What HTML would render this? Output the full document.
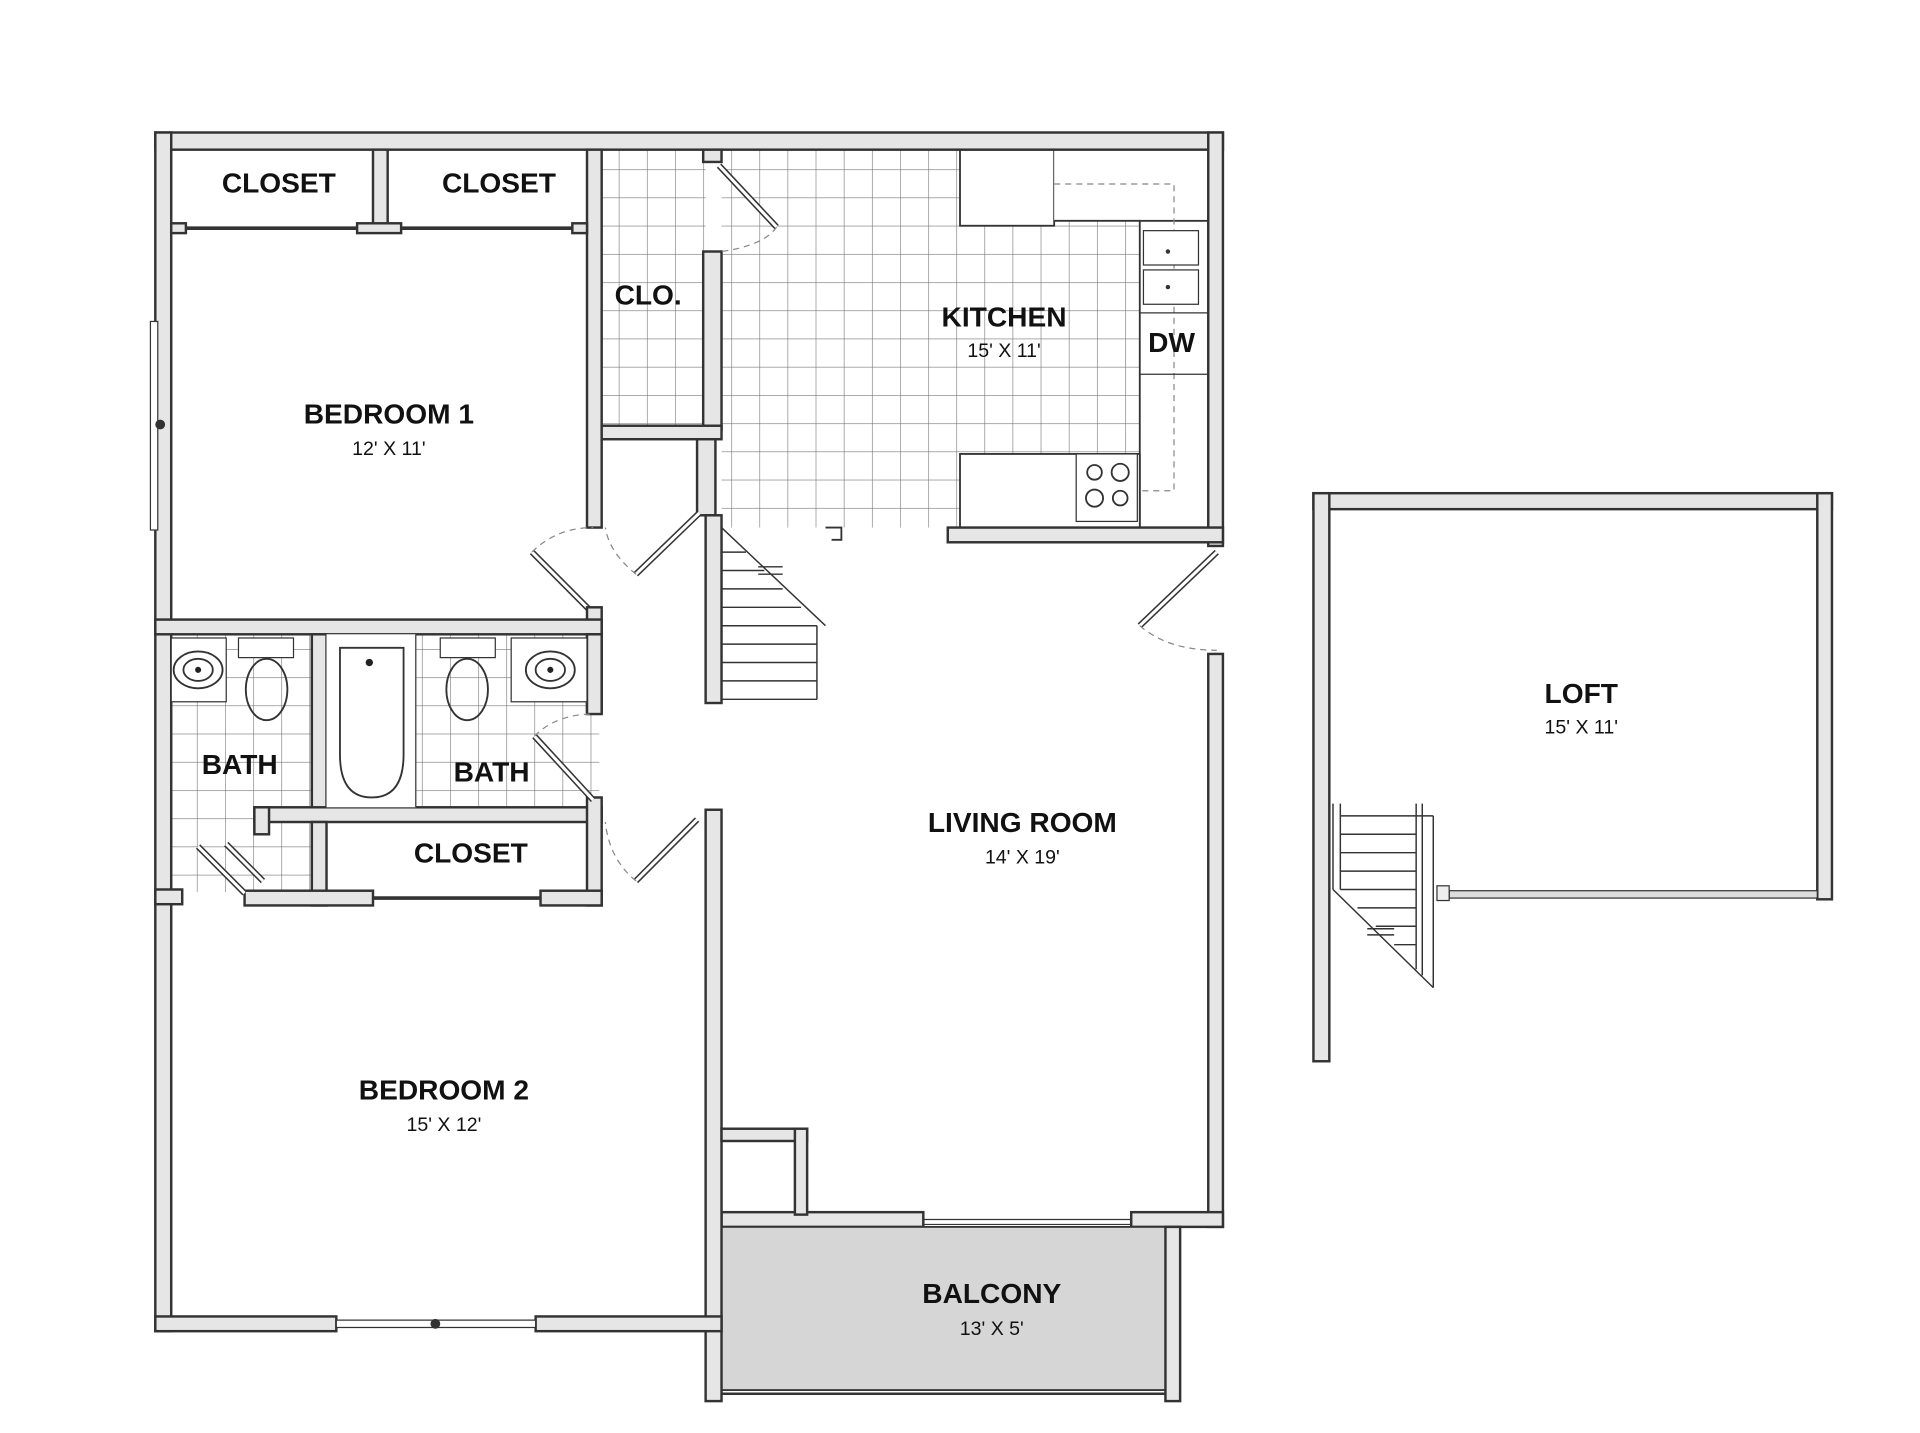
<!DOCTYPE html>
<html><head><style>
html,body{margin:0;padding:0;background:#fff;}
svg{display:block;}
text{font-family:"Liberation Sans",sans-serif;fill:#111;}
.t{font-weight:bold;font-size:23px;text-anchor:middle;}
.s{font-size:16px;text-anchor:middle;}
.w{fill:#e6e6e6;stroke:#333;stroke-width:2;}
.thin{fill:none;stroke:#333;stroke-width:1.5;}
.dash{fill:none;stroke:#888;stroke-width:1;stroke-dasharray:5 4;}
</style></head><body>
<svg width="1920" height="1433" viewBox="0 0 1570 1168" preserveAspectRatio="none" xmlns="http://www.w3.org/2000/svg">
<defs>
<pattern id="tile" x="0" y="0" width="23" height="23" patternUnits="userSpaceOnUse">
<path d="M0 0H23M0 0V23" stroke="#777" stroke-width="1" fill="none"/>
</pattern>
</defs>
<rect x="492" y="122" width="85" height="225" fill="url(#tile)"/>
<rect x="590" y="122" width="398" height="308" fill="url(#tile)"/>
<rect x="140" y="517" width="115" height="210" fill="url(#tile)"/>
<rect x="340" y="517" width="150" height="140" fill="url(#tile)"/>
<rect x="785" y="122" width="77" height="62" fill="#fff" stroke="#333" stroke-width="1.5"/>
<rect x="862" y="122" width="126" height="58" fill="#fff" stroke="none"/>
<line x1="862" y1="180" x2="932" y2="180" stroke="#333" stroke-width="1.5"/>
<rect x="932" y="180" width="56" height="250" fill="#fff" stroke="#333" stroke-width="1.5"/>
<rect x="785" y="370" width="147" height="60" fill="#fff" stroke="#333" stroke-width="1.5"/>
<path class="dash" d="M862 150H960V400H932"/>
<rect x="935" y="188" width="45" height="28" fill="#fff" stroke="#333"/>
<rect x="935" y="220" width="45" height="28" fill="#fff" stroke="#333"/>
<circle cx="955" cy="205" r="1.8" fill="#333"/><circle cx="955" cy="234" r="1.8" fill="#333"/>
<line x1="932" y1="255" x2="988" y2="255" stroke="#333"/><line x1="932" y1="305" x2="988" y2="305" stroke="#333"/>
<rect x="880" y="370" width="50" height="55" fill="#fff" stroke="#333"/>
<circle cx="895" cy="385" r="6" class="thin"/><circle cx="916" cy="385" r="7" class="thin"/>
<circle cx="895" cy="406" r="7" class="thin"/><circle cx="916" cy="406" r="6" class="thin"/>
<rect class="w" x="127" y="108" width="873" height="14"/>
<rect class="w" x="127" y="108" width="13" height="977"/>
<rect class="w" x="988" y="108" width="12" height="337"/>
<rect class="w" x="988" y="533" width="12" height="467"/>
<rect class="w" x="925" y="988" width="75" height="12"/>
<rect class="w" x="590" y="988" width="165" height="12"/>
<line x1="755" y1="994" x2="925" y2="994" stroke="#333"/><line x1="755" y1="998" x2="925" y2="998" stroke="#333"/>
<rect x="590" y="1000" width="363" height="133" fill="#d6d6d6" stroke="#333" stroke-width="1.5"/>
<rect class="w" x="577" y="660" width="13" height="482"/>
<rect class="w" x="953" y="1000" width="12" height="142"/>
<line x1="590" y1="1136" x2="953" y2="1136" stroke="#333" stroke-width="2"/>
<rect class="w" x="127" y="1073" width="148" height="12"/>
<rect class="w" x="438" y="1073" width="152" height="12"/>
<rect x="275" y="1076" width="163" height="6" fill="#fff" stroke="#333"/>
<circle cx="356" cy="1079" r="4" fill="#333"/>
<rect class="w" x="590" y="920" width="70" height="10"/>
<rect class="w" x="650" y="920" width="10" height="70"/>
<rect x="123" y="262" width="6" height="170" fill="#fff" stroke="#333"/>
<circle cx="131" cy="346" r="4" fill="#333"/>
<rect class="w" x="305" y="122" width="12" height="66"/>
<rect class="w" x="480" y="122" width="12" height="308"/>
<rect class="w" x="140" y="182" width="12" height="8"/>
<rect class="w" x="292" y="182" width="36" height="8"/>
<rect class="w" x="468" y="182" width="12" height="8"/>
<line x1="152" y1="186" x2="292" y2="186" stroke="#333" stroke-width="3"/>
<line x1="328" y1="186" x2="468" y2="186" stroke="#333" stroke-width="3"/>
<rect class="w" x="575" y="205" width="15" height="145"/>
<rect class="w" x="575" y="122" width="15" height="10"/>
<rect class="w" x="492" y="347" width="98" height="11"/>
<rect class="w" x="570" y="358" width="15" height="62"/>
<line x1="588" y1="135" x2="635" y2="185" stroke="#333" stroke-width="5"/>
<line x1="588" y1="135" x2="635" y2="185" stroke="#fff" stroke-width="2.5"/>
<path class="dash" d="M635 185Q625 200 590 205"/>
<line x1="572" y1="418" x2="520" y2="468" stroke="#333" stroke-width="5"/>
<line x1="572" y1="418" x2="520" y2="468" stroke="#fff" stroke-width="2.5"/>
<path class="dash" d="M520 468Q498 450 495 430"/>
<line x1="435" y1="450" x2="485" y2="500" stroke="#333" stroke-width="5"/>
<line x1="435" y1="450" x2="485" y2="500" stroke="#fff" stroke-width="2.5"/>
<path class="dash" d="M435 450Q455 430 485 430"/>
<rect class="w" x="480" y="495" width="12" height="85"/>
<rect class="w" x="127" y="505" width="365" height="12"/>
<rect class="w" x="577" y="420" width="13" height="153"/>
<g stroke="#333" stroke-width="1.2">
<line x1="590" y1="430" x2="590" y2="570"/><line x1="668" y1="510" x2="668" y2="570"/>
<line x1="590" y1="430" x2="675" y2="510"/>
<line x1="590" y1="570" x2="668" y2="570"/>
<line x1="590" y1="555" x2="668" y2="555"/><line x1="590" y1="540" x2="668" y2="540"/>
<line x1="590" y1="525" x2="668" y2="525"/><line x1="590" y1="510" x2="668" y2="510"/>
<line x1="590" y1="495" x2="655" y2="495"/><line x1="590" y1="480" x2="640" y2="480"/>
<line x1="590" y1="465" x2="625" y2="465"/><line x1="590" y1="450" x2="610" y2="450"/>
<line x1="620" y1="462" x2="640" y2="462"/><line x1="620" y1="468" x2="640" y2="468"/>
</g>
<rect class="w" x="775" y="430" width="225" height="12"/>
<path d="M675 430H688V440H680" class="thin"/>
<line x1="995" y1="450" x2="932" y2="510" stroke="#333" stroke-width="5"/>
<line x1="995" y1="450" x2="932" y2="510" stroke="#fff" stroke-width="2.5"/>
<path class="dash" d="M932 510Q955 530 995 530"/>
<rect class="w" x="255" y="517" width="12" height="143"/>
<rect class="w" x="480" y="517" width="12" height="65"/>
<rect class="w" x="208" y="658" width="284" height="12"/>
<rect class="w" x="208" y="658" width="12" height="22"/>
<rect class="w" x="255" y="670" width="12" height="68"/>
<rect class="w" x="480" y="650" width="12" height="88"/>
<rect class="w" x="200" y="726" width="105" height="12"/>
<rect class="w" x="442" y="726" width="50" height="12"/>
<line x1="305" y1="732" x2="442" y2="732" stroke="#333" stroke-width="3"/>
<rect class="w" x="127" y="725" width="22" height="12"/>
<rect x="140" y="520" width="45" height="52" fill="#fff" stroke="#333"/>
<ellipse cx="162" cy="546" rx="20" ry="15" class="thin"/><ellipse cx="162" cy="546" rx="12" ry="9" class="thin"/><circle cx="162" cy="546" r="2.5" fill="#222"/>
<rect x="195" y="520" width="45" height="16" fill="#fff" stroke="#333"/>
<ellipse cx="218" cy="562" rx="17" ry="25" class="thin"/>
<rect x="360" y="520" width="45" height="16" fill="#fff" stroke="#333"/>
<ellipse cx="382" cy="562" rx="17" ry="25" class="thin"/>
<rect x="418" y="520" width="62" height="52" fill="#fff" stroke="#333"/>
<ellipse cx="450" cy="546" rx="20" ry="15" class="thin"/><ellipse cx="450" cy="546" rx="12" ry="9" class="thin"/><circle cx="450" cy="546" r="2.5" fill="#222"/>
<rect x="267" y="517" width="73" height="141" fill="#fff"/>
<path d="M278 528H330V615Q330 650 304 650Q278 650 278 615Z" class="thin"/>
<circle cx="302" cy="540" r="3" fill="#222"/>
<line x1="340" y1="517" x2="340" y2="658" stroke="#333"/>
<line x1="437" y1="600" x2="485" y2="652" stroke="#333" stroke-width="5"/>
<line x1="437" y1="600" x2="485" y2="652" stroke="#fff" stroke-width="2.5"/>
<path class="dash" d="M437 600Q455 582 485 582"/>
<line x1="162" y1="690" x2="200" y2="728" stroke="#333" stroke-width="5"/><line x1="162" y1="690" x2="200" y2="728" stroke="#fff" stroke-width="2.5"/>
<line x1="185" y1="688" x2="215" y2="718" stroke="#333" stroke-width="5"/><line x1="185" y1="688" x2="215" y2="718" stroke="#fff" stroke-width="2.5"/>
<line x1="570" y1="668" x2="520" y2="718" stroke="#333" stroke-width="5"/>
<line x1="570" y1="668" x2="520" y2="718" stroke="#fff" stroke-width="2.5"/>
<path class="dash" d="M520 718Q498 700 495 670"/>
<rect class="w" x="1074" y="402" width="424" height="13"/>
<rect class="w" x="1074" y="402" width="13" height="463"/>
<rect class="w" x="1486" y="402" width="12" height="331"/>
<rect x="1185" y="726" width="301" height="6" fill="#ddd" stroke="#333"/>
<rect x="1175" y="722" width="10" height="12" fill="#eee" stroke="#333"/>
<g stroke="#333" stroke-width="1.2" fill="none">
<line x1="1090" y1="655" x2="1090" y2="725"/><line x1="1096" y1="655" x2="1096" y2="725"/>
<line x1="1158" y1="655" x2="1158" y2="790"/><line x1="1163" y1="655" x2="1163" y2="795"/>
<line x1="1172" y1="665" x2="1172" y2="805"/>
<line x1="1090" y1="725" x2="1172" y2="805"/>
<line x1="1096" y1="665" x2="1172" y2="665"/>
<line x1="1096" y1="680" x2="1158" y2="680"/><line x1="1096" y1="695" x2="1158" y2="695"/>
<line x1="1096" y1="710" x2="1158" y2="710"/><line x1="1096" y1="725" x2="1158" y2="725"/>
<line x1="1110" y1="740" x2="1158" y2="740"/><line x1="1125" y1="755" x2="1158" y2="755"/>
<line x1="1140" y1="770" x2="1158" y2="770"/>
<line x1="1118" y1="757" x2="1140" y2="757"/><line x1="1118" y1="762" x2="1140" y2="762"/>
</g>
<text class="t" x="228" y="157">CLOSET</text>
<text class="t" x="408" y="157">CLOSET</text>
<text class="t" x="530" y="248">CLO.</text>
<text class="t" x="821" y="266">KITCHEN</text>
<text class="s" x="821" y="291">15' X 11'</text>
<text class="t" x="958" y="287">DW</text>
<text class="t" x="318" y="345">BEDROOM 1</text>
<text class="s" x="318" y="371">12' X 11'</text>
<text class="t" x="196" y="631">BATH</text>
<text class="t" x="402" y="637">BATH</text>
<text class="t" x="385" y="703">CLOSET</text>
<text class="t" x="836" y="678">LIVING ROOM</text>
<text class="s" x="836" y="704">14' X 19'</text>
<text class="t" x="363" y="896">BEDROOM 2</text>
<text class="s" x="363" y="922">15' X 12'</text>
<text class="t" x="811" y="1062">BALCONY</text>
<text class="s" x="811" y="1088">13' X 5'</text>
<text class="t" x="1293" y="573">LOFT</text>
<text class="s" x="1293" y="598">15' X 11'</text>
</svg>
</body></html>
